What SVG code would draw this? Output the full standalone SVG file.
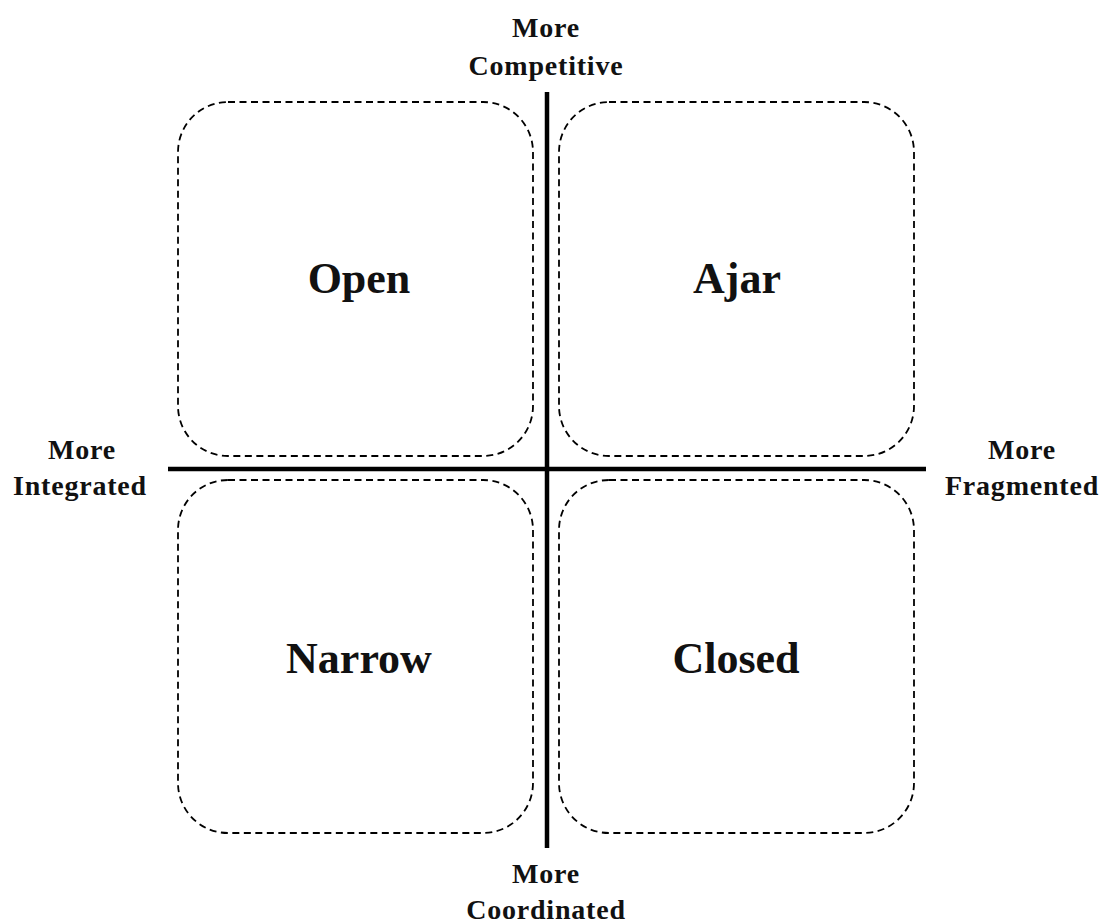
<svg xmlns="http://www.w3.org/2000/svg" width="1105" height="923" viewBox="0 0 1105 923">
<style>
.box{fill:none;stroke:#000;stroke-width:1.8;stroke-dasharray:7 4.5}
.axis{stroke:#000;stroke-width:4.5;fill:none}
.lab{font-family:"Liberation Serif",serif;font-weight:bold;font-size:28px;letter-spacing:0.8px;text-anchor:middle;fill:#111}
.big{font-family:"Liberation Serif",serif;font-weight:bold;font-size:44px;text-anchor:middle;fill:#111}
</style>
<rect width="1105" height="923" fill="#fff"/>
<g id="open"><rect class="box" x="178" y="102" width="355" height="354" rx="50"/><text class="big" x="359" y="293">Open</text></g>
<g id="ajar"><rect class="box" x="559" y="102" width="355" height="354" rx="50"/><text class="big" x="737" y="293">Ajar</text></g>
<g id="narrow"><rect class="box" x="178" y="480" width="355" height="353" rx="50"/><text class="big" x="359" y="673">Narrow</text></g>
<g id="closed"><rect class="box" x="559" y="480" width="355" height="353" rx="50"/><text class="big" x="736" y="673">Closed</text></g>
<g id="connectors">
<line class="axis" x1="547" y1="92" x2="547" y2="848"/>
<line class="axis" x1="168" y1="469" x2="926" y2="469"/>
</g>
<g id="labels">
<text class="lab" x="546" y="37">More</text>
<text class="lab" x="546" y="75">Competitive</text>
<text class="lab" x="546" y="883">More</text>
<text class="lab" x="546" y="919">Coordinated</text>
<text class="lab" x="82" y="459">More</text>
<text class="lab" x="80" y="495">Integrated</text>
<text class="lab" x="1022" y="459">More</text>
<text class="lab" x="1022" y="495">Fragmented</text>
</g>
</svg>
